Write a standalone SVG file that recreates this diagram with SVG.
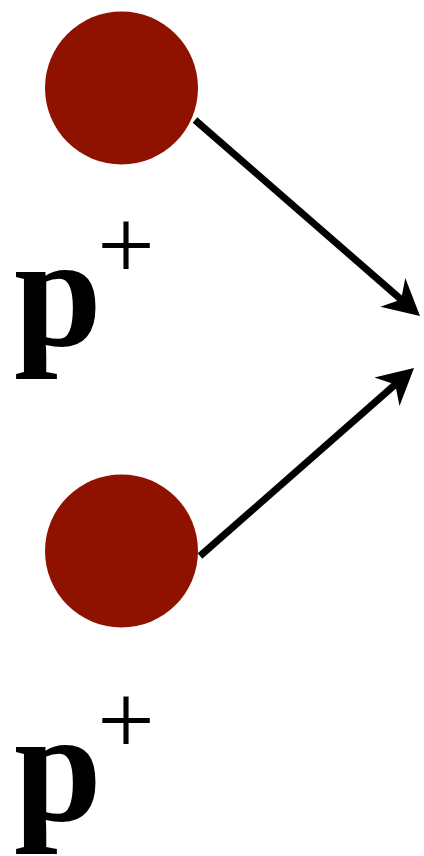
<svg xmlns="http://www.w3.org/2000/svg" width="424" height="856" viewBox="0 0 424 856">
<style>
.proton{fill:#8f1100}
.p{font-family:"Liberation Serif","Times New Roman",serif;font-weight:bold;font-size:158px;fill:#000}
.plus{font-family:"Liberation Serif","Times New Roman",serif;font-size:102px;fill:#000}
.conn{stroke:#000;stroke-width:7;fill:none}
</style>
<defs>
<marker id="ah" markerUnits="userSpaceOnUse" markerWidth="40" markerHeight="40" refX="14" refY="19" orient="auto" overflow="visible">
<path d="M0,0 L36,19 L0,38 L11,19 Z" fill="#000"/>
</marker>
</defs>
<rect width="424" height="856" fill="#fff"/>
<g id="proton1">
<circle class="proton" cx="121.5" cy="88" r="76.5"/>
<text class="p" x="14" y="345">p</text>
<text class="plus" x="126" y="279" text-anchor="middle">+</text>
</g>
<g id="proton2">
<circle class="proton" cx="121.5" cy="551" r="76.5"/>
<text class="p" x="14" y="820">p</text>
<text class="plus" x="126" y="754" text-anchor="middle">+</text>
</g>
<g id="connectors">
<line class="conn" x1="195" y1="120" x2="403.4" y2="301.5" marker-end="url(#ah)"/>
<line class="conn" x1="200" y1="556" x2="397.5" y2="382.5" marker-end="url(#ah)"/>
</g>
</svg>
